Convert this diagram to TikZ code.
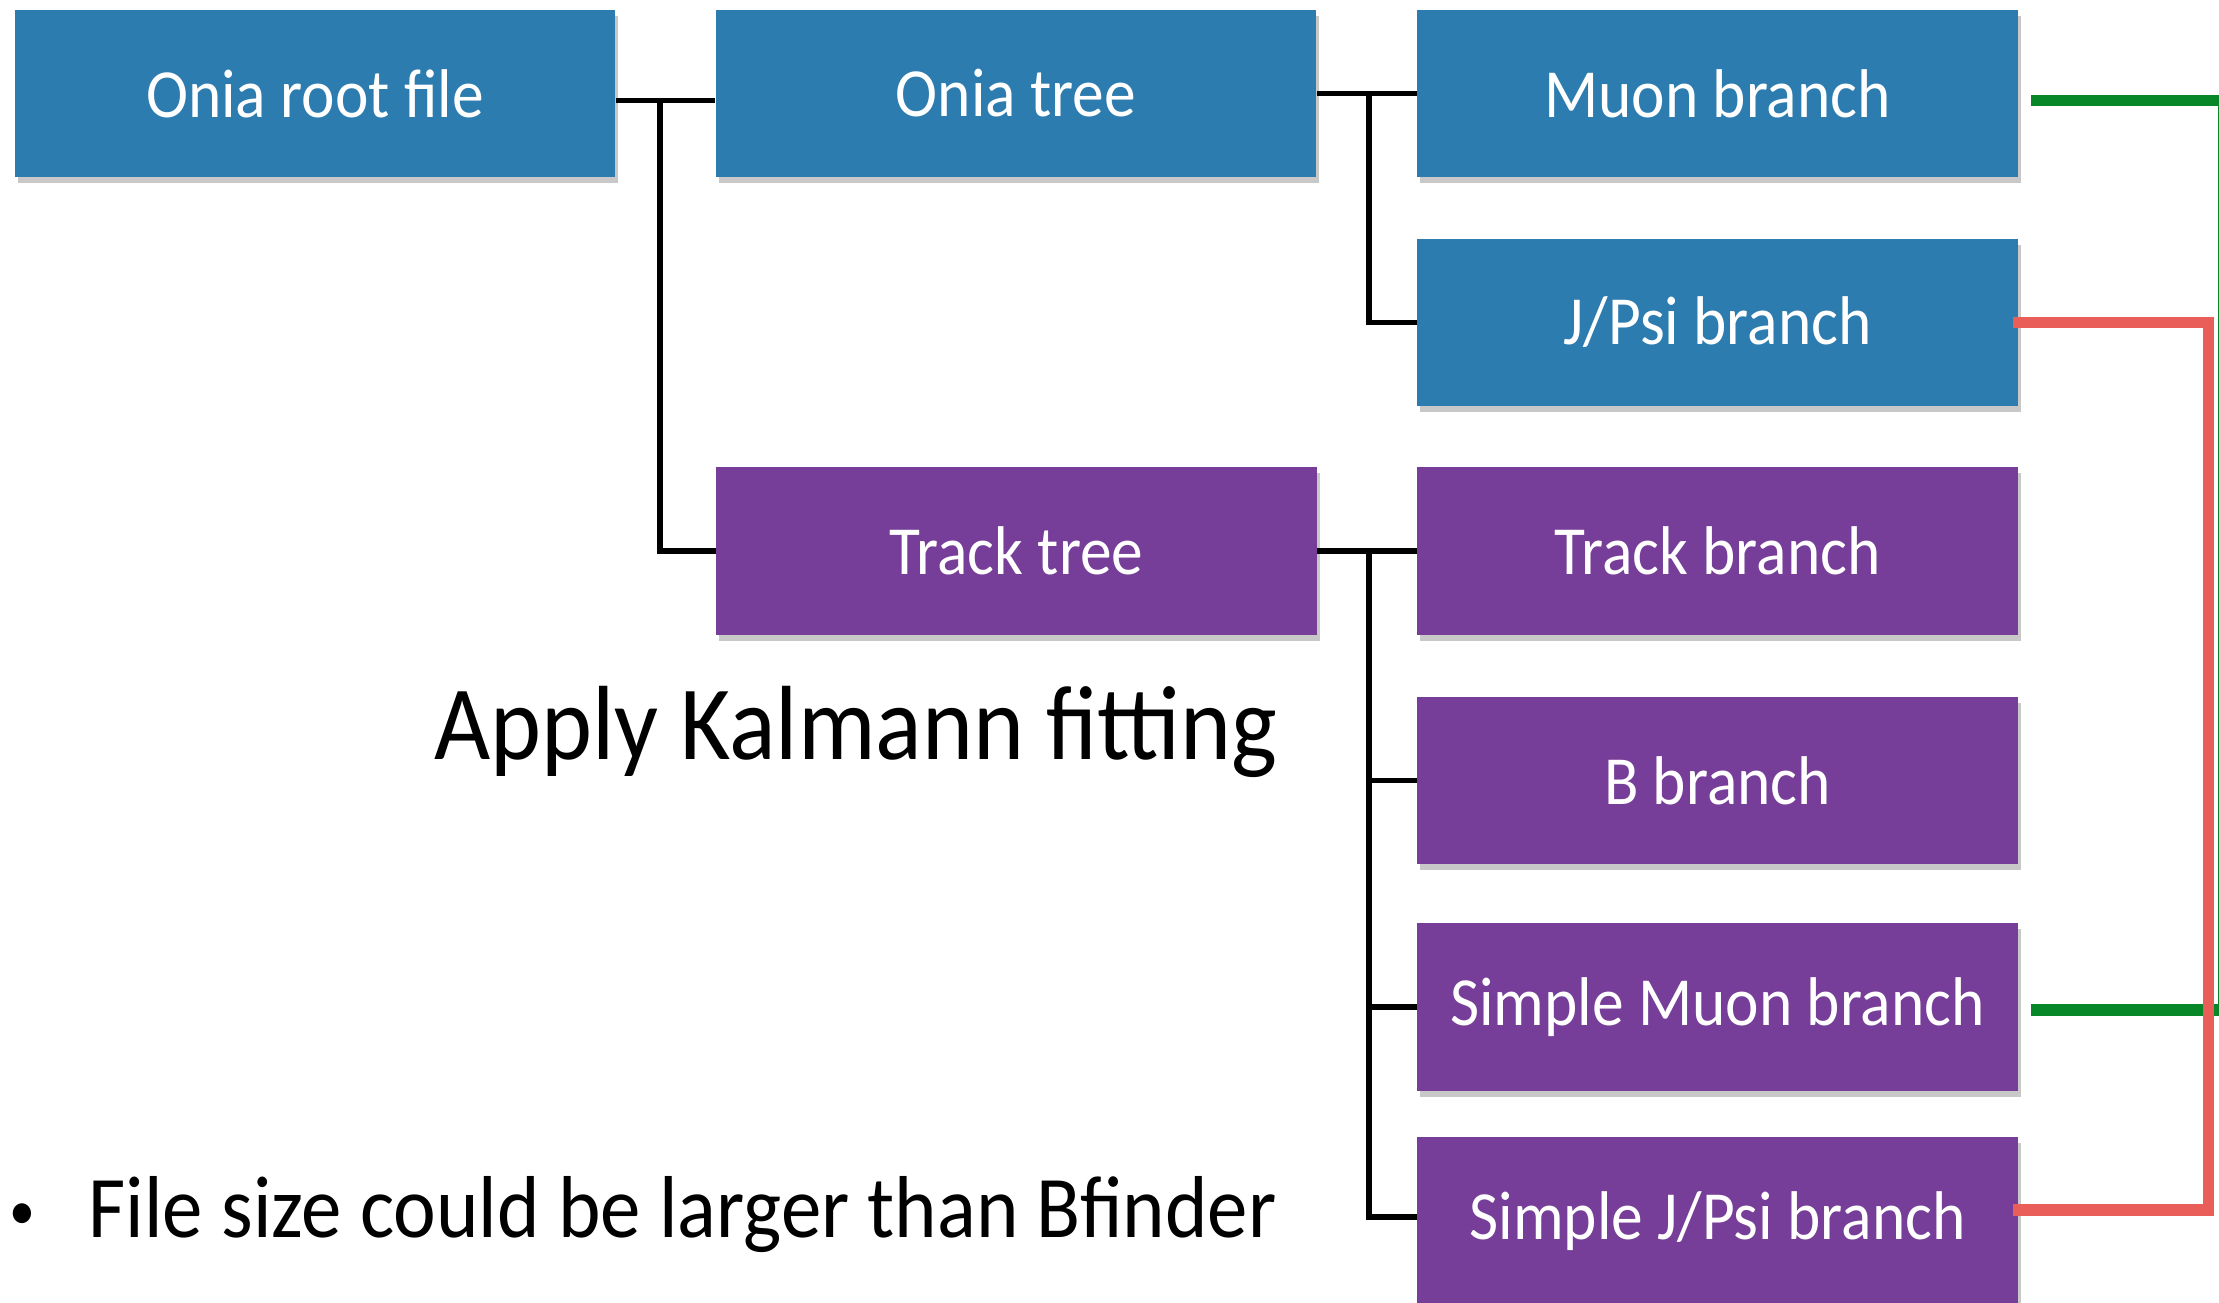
\documentclass[tikz,border=0pt]{standalone}
\usepackage{fontspec}
\setmainfont{Carlito}[FakeStretch=0.92]
\usetikzlibrary{shadows,calc}
\definecolor{oniablue}{RGB}{45,124,175}
\definecolor{trackpurple}{RGB}{118,62,152}
\definecolor{linkgreen}{RGB}{8,135,40}
\definecolor{linkred}{RGB}{233,94,88}
\tikzset{
  box/.style={minimum width=6cm, minimum height=1.67cm, inner sep=0pt, text=white,
    font=\fontsize{19.6}{23}\selectfont,
    drop shadow={shadow xshift=0.03cm, shadow yshift=-0.06cm, opacity=0.3, fill=black!70}},
  onia/.style={box, fill=oniablue},
  track/.style={box, fill=trackpurple},
  conn/.style={line width=1.6pt, draw=black},
  link/.style={line width=3.2pt, line join=miter},
  plain/.style={inner sep=0pt, text=black}
}
\begin{document}
\begin{tikzpicture}[x=0.01cm, y=-0.01cm]
\useasboundingbox[fill=white] (0,0) rectangle (2219,1302);

% boxes
\node[onia]  (root) at (315,93.5)   {Onia root file};
\node[onia]  (ot)   at (1016,93.5)  {Onia tree};
\node[onia]  (mu)   at (1717.5,93.5) {Muon branch};
\node[onia]  (jp)   at (1717.5,322.5) {J/Psi branch};
\node[track] (tt)   at (1016.5,551) {Track tree};
\node[track] (tb)   at (1717.5,551) {Track branch};
\node[track] (bb)   at (1717.5,780.5) {B branch};
\node[track] (sm)   at (1717.5,1007) {Simple Muon branch};
\node[track] (sj)   at (1717.5,1221) {Simple J/Psi branch};

% texts
\node[plain, anchor=base east, font=\fontsize{30}{36}\selectfont] (apply) at (1278,759) {Apply Kalmann fitting};
\node[plain, anchor=base west, font=\fontsize{25}{30}\selectfont] (bul) at (88,1237) {File size could be larger than Bfinder};
\node[plain, anchor=base west, font=\fontsize{16}{20}\selectfont] (dot) at (9,1229) {•};

% junction columns
\coordinate (j1) at (660,0);
\coordinate (j2) at (1369,0);
\coordinate (r1) at ([yshift=-0.07cm]root.east);

% black tree connectors
\draw[conn] (r1) -- (r1 -| ot.west);
\draw[conn] (r1 -| j1) |- (tt.west);
\draw[conn] (ot.east) -- (mu.west);
\draw[conn] (ot.east -| j2) |- (jp.west);
\draw[conn] (tt.east) -- (tb.west);
\draw[conn] (tt.east -| j2) |- ([yshift=0.04cm]sj.west);
\draw[conn] (j2 |- bb.west) -- (bb.west);
\draw[conn] (j2 |- sm.west) -- (sm.west);

% coloured links
\draw[link, linkgreen] ([shift={(0.13cm,-0.07cm)}]mu.east) -- ++(192,0) |- ([shift={(0.13cm,-0.03cm)}]sm.east);
\draw[link, linkred] ([xshift=-0.05cm]jp.east) -- ++(195,0) |- ([shift={(-0.05cm,0.11cm)}]sj.east);
\end{tikzpicture}
\end{document}
